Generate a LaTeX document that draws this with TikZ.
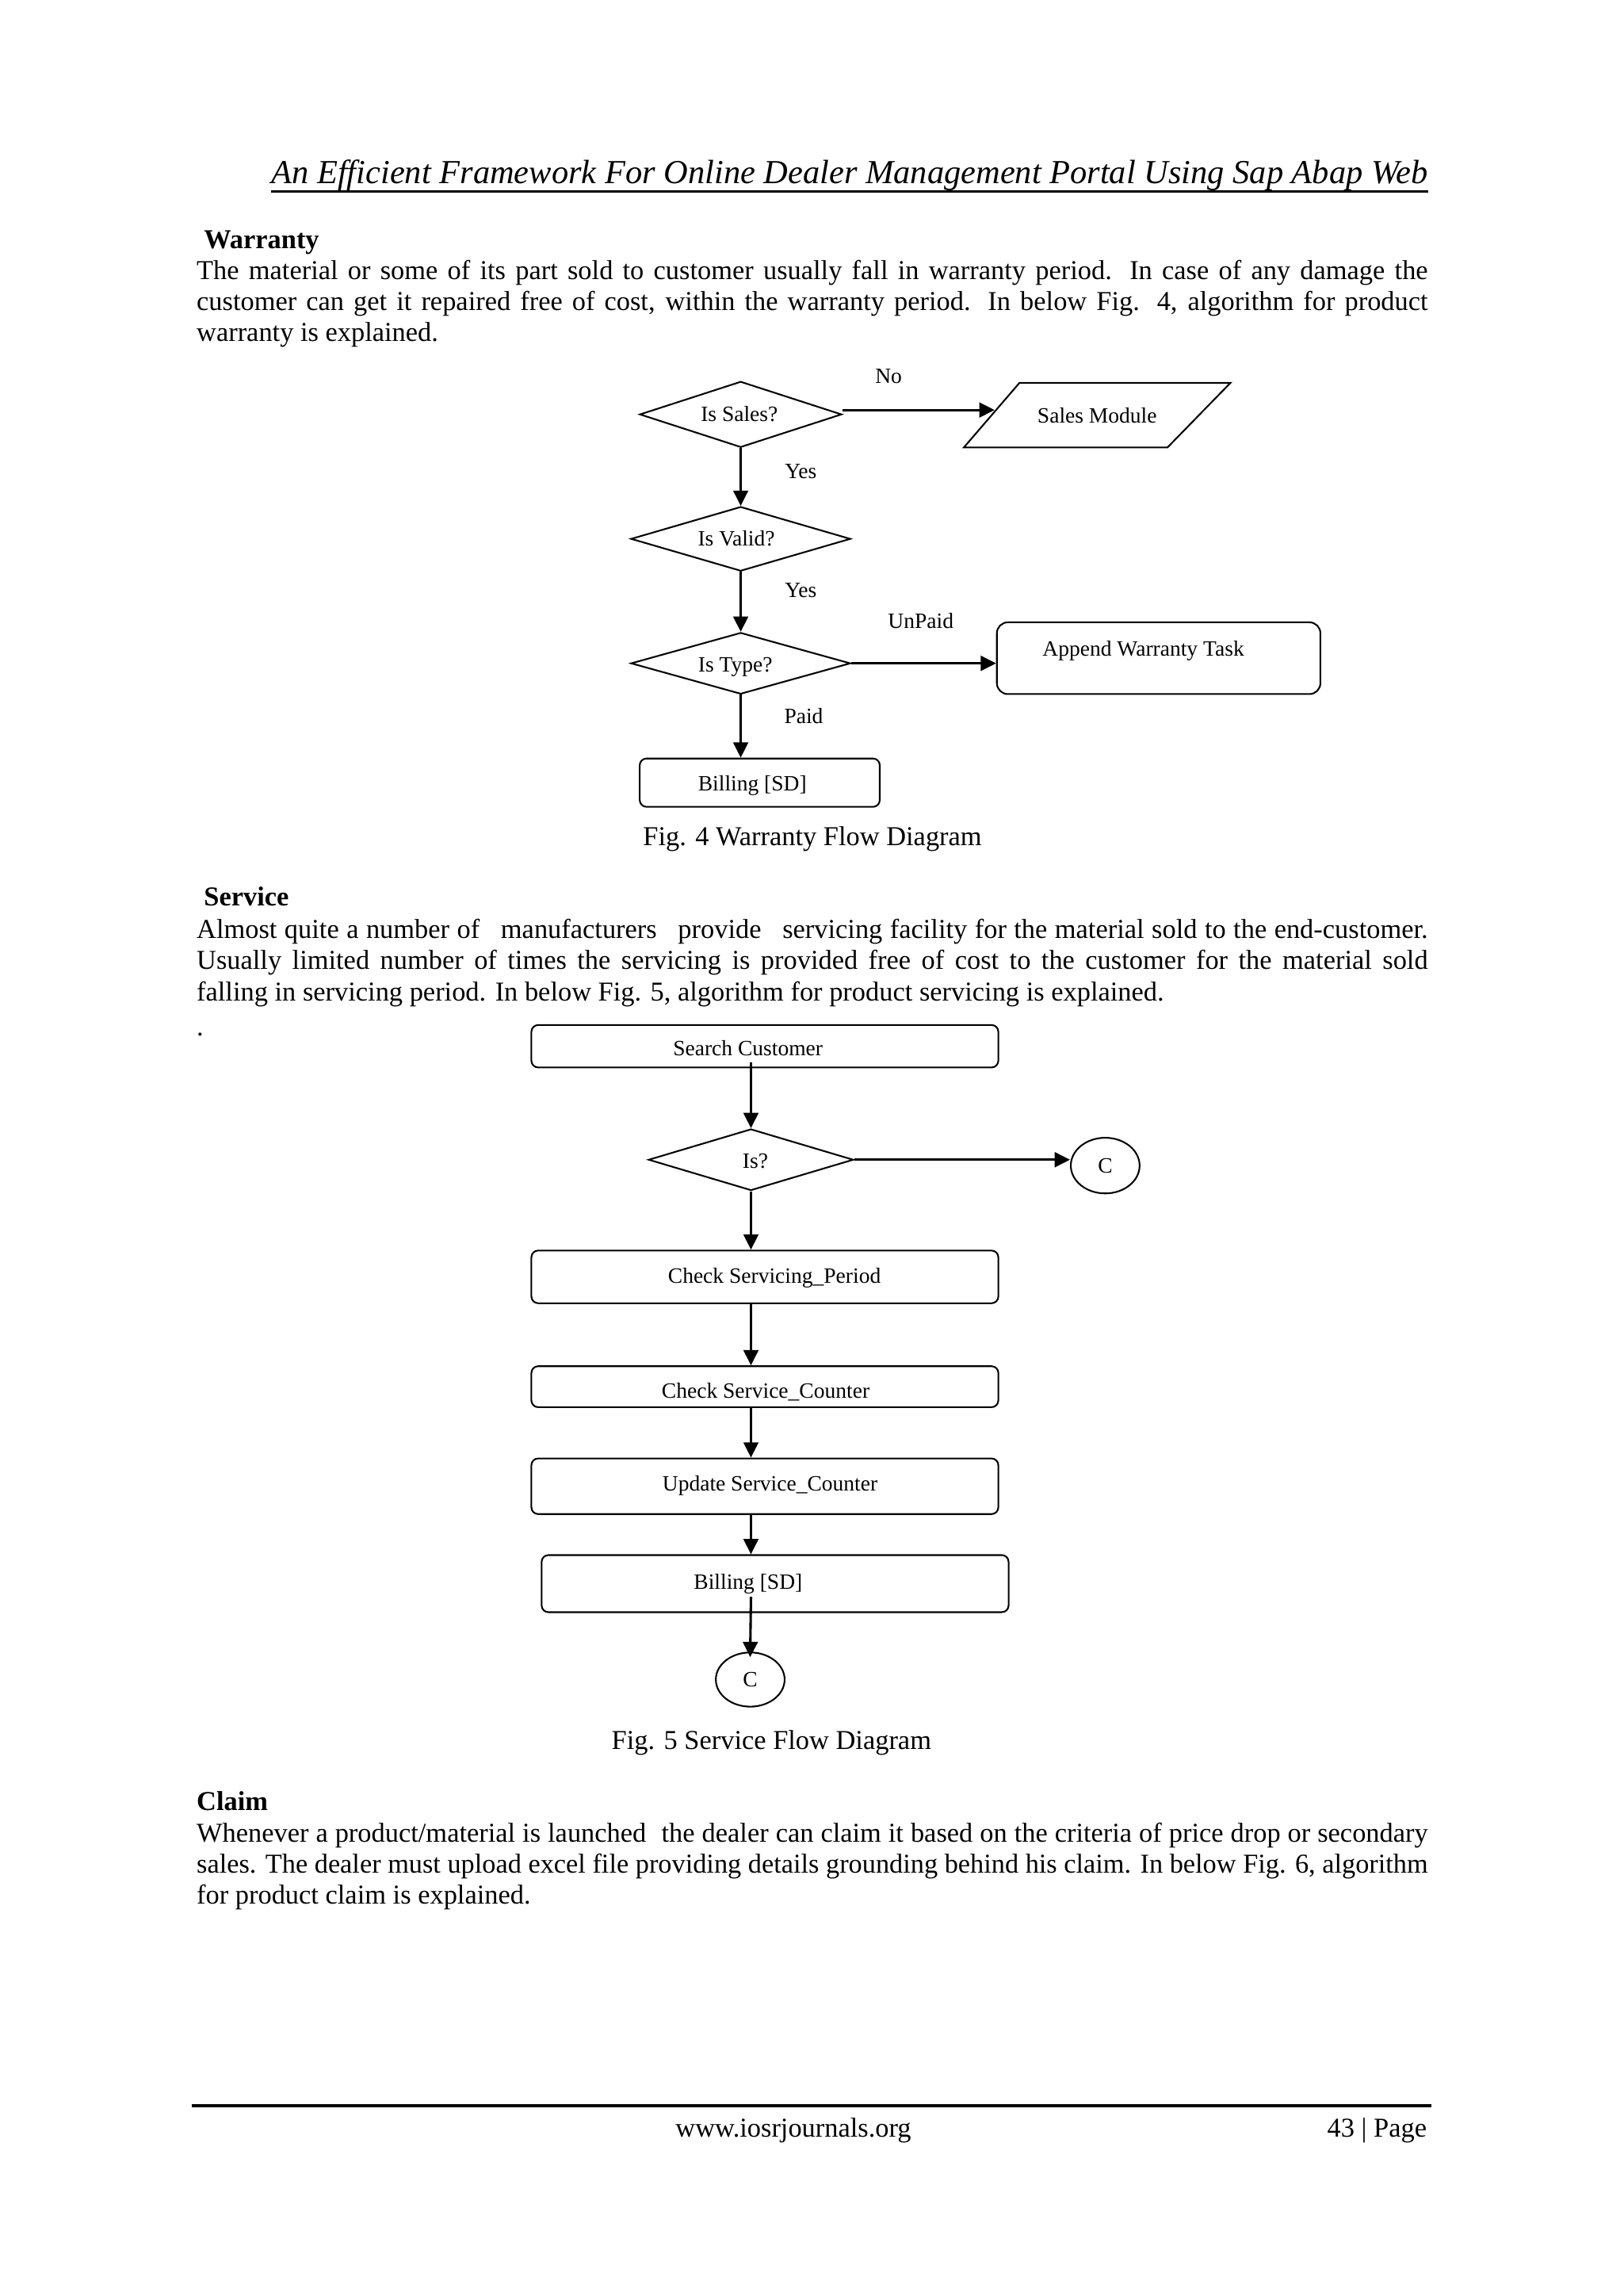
\documentclass[tikz,border=0pt]{standalone}
\usepackage{fontspec}
\setmainfont{Liberation Serif}
\usetikzlibrary{shapes.geometric,arrows.meta,calc}
\newcommand\uu{0.5367pt}
\newsavebox\jbox
\newlength\tw
\setlength\tw{451.4pt}
\newcommand\jline[2]{\sbox\jbox{#2}\ifdim\wd\jbox>#1\relax\resizebox{#1}{\height}{\usebox\jbox}\else\makebox[#1][s]{#2}\fi}
\newcommand\off[3]{\raisebox{#2}[0pt][0pt]{\makebox[0pt]{\hspace*{#1}\hspace*{#1}#3}}}
\tikzset{
 shp/.style={draw, line width=0.6pt, inner sep=0pt, font=\fontsize{8}{9.6}\selectfont},
 dia/.style={shp, diamond},
 rbox/.style={shp, rectangle, rounded corners=2.5pt},
 conn/.style={shp, ellipse},
 lbl/.style={font=\fontsize{8}{9.6}\selectfont, inner sep=0pt},
 arr/.style={line width=0.9pt, -{Triangle[length=5.6pt,width=5.4pt]}},
 txt/.style={font=\fontsize{10}{11.3}\selectfont, anchor=base west, inner sep=0pt},
}
\begin{document}
\begin{tikzpicture}[x=0.5367pt, y=-0.5367pt]
\fill[white] (0,0) rectangle (1109,1568);
\useasboundingbox (0,0) rectangle (1109,1568);

% header
\node[anchor=base west, inner sep=0pt, font=\fontsize{12}{14}\selectfont\itshape] (hdr) at (185,125.5) {\resizebox{424pt}{!}{An Efficient Framework For Online Dealer Management Portal Using Sap Abap Web}};
\draw[line width=1pt] (hdr.south west) -- (hdr.south east);

% Warranty section
\node[txt, font=\fontsize{10}{11.3}\selectfont\bfseries] (hw) at (139,169.5) {Warranty};
\node[txt] (w1) at (134,191) {\jline{\tw}{The material or some of its part sold to customer usually fall in warranty period. In case of any damage the}};
\node[txt] (w2) at (134,212) {\jline{\tw}{customer can get it repaired free of cost, within the warranty period. In below Fig. 4, algorithm for product}};
\node[txt] (w3) at (134,233) {warranty is explained.};

% Fig 4
\node[dia, minimum width=138*\uu, minimum height=45*\uu] (issales) at (506,283) {\off{-0.5pt}{-2.7pt}{Is Sales?}};
\node[shp, draw=none, minimum width=181*\uu, minimum height=43*\uu] (sales) at (749.5,283.5) {Sales Module};
\draw[line width=0.6pt] (sales.south west) -- ($(sales.north west)+(38,0)$) -- (sales.north east) -- ($(sales.south east)+(-43,0)$) -- cycle;
\node[dia, minimum width=150*\uu, minimum height=44*\uu] (isvalid) at (506,368) {\off{-1.6pt}{-2.7pt}{Is Valid?}};
\node[dia, minimum width=150*\uu, minimum height=42*\uu] (istype) at (506,453) {\off{-2pt}{-3.2pt}{Is Type?}};
\node[rbox, minimum width=221*\uu, minimum height=49*\uu, rounded corners=4pt] (append) at (791.5,449.5) {\off{-5.6pt}{0.8pt}{Append Warranty Task}};
\node[rbox, minimum width=164*\uu, minimum height=33*\uu] (bill1) at (519,534.5) {\off{-2.7pt}{-3.0pt}{Billing [SD]}};

\node[lbl] (lno) at (607,257) {No};
\node[lbl] (lyes1) at (547,322) {Yes};
\node[lbl] (lyes2) at (547,403) {Yes};
\node[lbl] (lunpaid) at (629,424) {UnPaid};
\node[lbl] (lpaid) at (549,489) {Paid};

\coordinate (nstart) at ($(issales.east)+(0,-3)$);
\coordinate (nend) at ($(nstart -| sales.west)+(21,0)$);
\draw[arr] (nstart) -- (nend);
\draw[arr] (issales.south) -- (isvalid.north);
\draw[arr] (isvalid.south) -- (istype.north);
\draw[arr] (istype.east) -- (istype.east -| append.west);
\draw[arr] (istype.south) -- (istype.south |- bill1.north);

\node[anchor=base, inner sep=0pt, font=\fontsize{10}{11.3}\selectfont] (cap4) at (555,577.5) {Fig. 4 Warranty Flow Diagram};

% Service section
\node[txt, font=\fontsize{10}{11.3}\selectfont\bfseries] (hs) at (139,618.5) {Service};
\node[txt] (s1) at (134,641) {\jline{\tw}{Almost quite a number of\hspace{0.5em} manufacturers\hspace{0.5em} provide\hspace{0.5em} servicing facility for the material sold to the end-customer.}};
\node[txt] (s2) at (134,662) {\jline{\tw}{Usually limited number of times the servicing is provided free of cost to the customer for the material sold}};
\node[txt] (s3) at (134,683.5) {falling in servicing period. In below Fig. 5, algorithm for product servicing is explained.};
\node[txt] (sdot) at (134,707.5) {.};

% Fig 5
\node[rbox, minimum width=319*\uu, minimum height=29*\uu] (search) at (522.5,714.5) {\off{-6.2pt}{-3.5pt}{Search Customer}};
\node[dia, minimum width=140*\uu, minimum height=42*\uu] (isq) at (513,792) {\off{1.6pt}{-3.2pt}{Is?}};
\node[conn, minimum width=47*\uu, minimum height=38*\uu] (cc1) at (755,796) {C};
\node[rbox, minimum width=319*\uu, minimum height=36*\uu] (chk1) at (522.5,872) {\off{3.5pt}{-2.2pt}{Check Servicing\_Period}};
\node[rbox, minimum width=319*\uu, minimum height=28*\uu] (chk2) at (522.5,947) {\off{0.3pt}{-4.3pt}{Check Service\_Counter}};
\node[rbox, minimum width=319*\uu, minimum height=38*\uu] (upd) at (522.5,1015) {\off{1.9pt}{-1.6pt}{Update Service\_Counter}};
\node[rbox, minimum width=319*\uu, minimum height=39*\uu] (bill2) at (529.5,1081.5) {\off{-9.9pt}{-1.9pt}{Billing [SD]}};
\node[conn, minimum width=47*\uu, minimum height=37*\uu] (cc2) at (512.5,1147) {C};

\coordinate (sstart) at ($(isq.north |- search.south)+(0,-4)$);
\coordinate (bstart) at ($(isq.south |- bill2.south)+(0,-11)$);
\draw[arr] (sstart) -- (isq.north);
\draw[arr] (isq.east) -- (isq.east -| cc1.west);
\draw[arr] (isq.south) -- (isq.south |- chk1.north);
\draw[arr] (isq.south |- chk1.south) -- (isq.south |- chk2.north);
\draw[arr] (isq.south |- chk2.south) -- (isq.south |- upd.north);
\draw[arr] (isq.south |- upd.south) -- (isq.south |- bill2.north);
\draw[arr, shorten >=-2pt] (bstart) -- (cc2.north);

\node[anchor=base, inner sep=0pt, font=\fontsize{10}{11.3}\selectfont] (cap5) at (527,1194.5) {Fig. 5 Service Flow Diagram};

% Claim section
\node[txt, font=\fontsize{10}{11.3}\selectfont\bfseries] (hc) at (134,1236.5) {Claim};
\node[txt] (c1) at (134,1258) {\jline{\tw}{Whenever a product/material is launched\hspace{0.3em} the dealer can claim it based on the criteria of price drop or secondary}};
\node[txt] (c2) at (134,1279) {\jline{\tw}{sales. The dealer must upload excel file providing details grounding behind his claim. In below Fig. 6, algorithm}};
\node[txt] (c3) at (134,1300.5) {for product claim is explained.};

% footer
\draw[line width=1.2pt] (131,1438) -- (978,1438);
\node[anchor=base, inner sep=0pt, font=\fontsize{10}{11.3}\selectfont] (url) at (542,1459.5) {www.iosrjournals.org};
\node[anchor=base east, inner sep=0pt, font=\fontsize{10}{11.3}\selectfont] (pg) at (975,1459.5) {43 | Page};
\end{tikzpicture}
\end{document}
